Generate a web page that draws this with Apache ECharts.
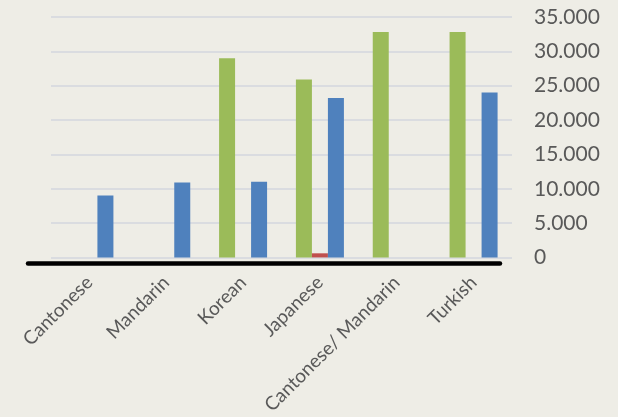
<!DOCTYPE html>
<html>
<head>
<meta charset="utf-8">
<script src="https://cdn.jsdelivr.net/npm/echarts@6/dist/echarts.min.js"></script>
<style>
  html, body { margin: 0; padding: 0; background: #EEEDE6; }
  #chart { width: 618px; height: 417px; }
</style>
</head>
<body>
<div id="chart"></div>
<script>
// Languages and counts per series
const categories = ['Cantonese', 'Mandarin', 'Korean', 'Japanese', 'Cantonese/ Mandarin', 'Turkish'];
const greenValues = [0, 0, 29000, 25900, 32800, 32800];
const redValues = [0, 0, 0, 600, 0, 0];
const blueValues = [9000, 10900, 11000, 23200, 0, 24000];
const yTicks = { min: 0, max: 35000, interval: 5000 };

const fontFamily = 'Lato, "Open Sans", sans-serif';
const textColor = '#595959';

function thousands(v) {
  return String(v).replace(/\B(?=(\d{3})+(?!\d))/g, '.');
}

function barSeries(values, color) {
  return {
    type: 'bar',
    xAxisIndex: 0,
    yAxisIndex: 0,
    data: values,
    barWidth: 16,
    barGap: '0%',
    itemStyle: { color: color },
    silent: true
  };
}

const chart = echarts.init(document.getElementById('chart'), null, { renderer: 'canvas' });
chart.setOption({
  backgroundColor: '#EEEDE6',
  animation: false,
  grid: [
    { left: 51, right: 106, top: 17, bottom: 157 },
    // carries the heavy black baseline
    { left: 28, width: 472, top: 17, bottom: 154 }
  ],
  xAxis: [
    {
      type: 'category',
      gridIndex: 0,
      data: categories,
      axisLine: { show: false },
      axisTick: { show: false },
      axisLabel: {
        rotate: 45,
        interval: 0,
        margin: 22,
        color: textColor,
        fontFamily: fontFamily,
        fontSize: 19
      }
    },
    {
      type: 'value',
      gridIndex: 1,
      axisLine: { show: true, onZero: false, lineStyle: { color: '#000000', width: 4.5 } },
      axisTick: { show: false },
      axisLabel: { show: false },
      splitLine: { show: false }
    }
  ],
  yAxis: [
    {
      type: 'value',
      gridIndex: 0,
      position: 'right',
      min: yTicks.min,
      max: yTicks.max,
      interval: yTicks.interval,
      axisLine: { show: false },
      axisTick: { show: false },
      splitLine: { lineStyle: { color: '#D3D6DE', width: 1.5 } },
      axisLabel: {
        align: 'left',
        margin: 22,
        color: textColor,
        fontFamily: fontFamily,
        fontSize: 21,
        formatter: thousands
      }
    },
    {
      type: 'value',
      gridIndex: 1,
      show: false
    }
  ],
  series: [
    barSeries(greenValues, '#9BBB59'),
    barSeries(redValues, '#C0504D'),
    barSeries(blueValues, '#4F81BD')
  ]
});
</script>
</body>
</html>
